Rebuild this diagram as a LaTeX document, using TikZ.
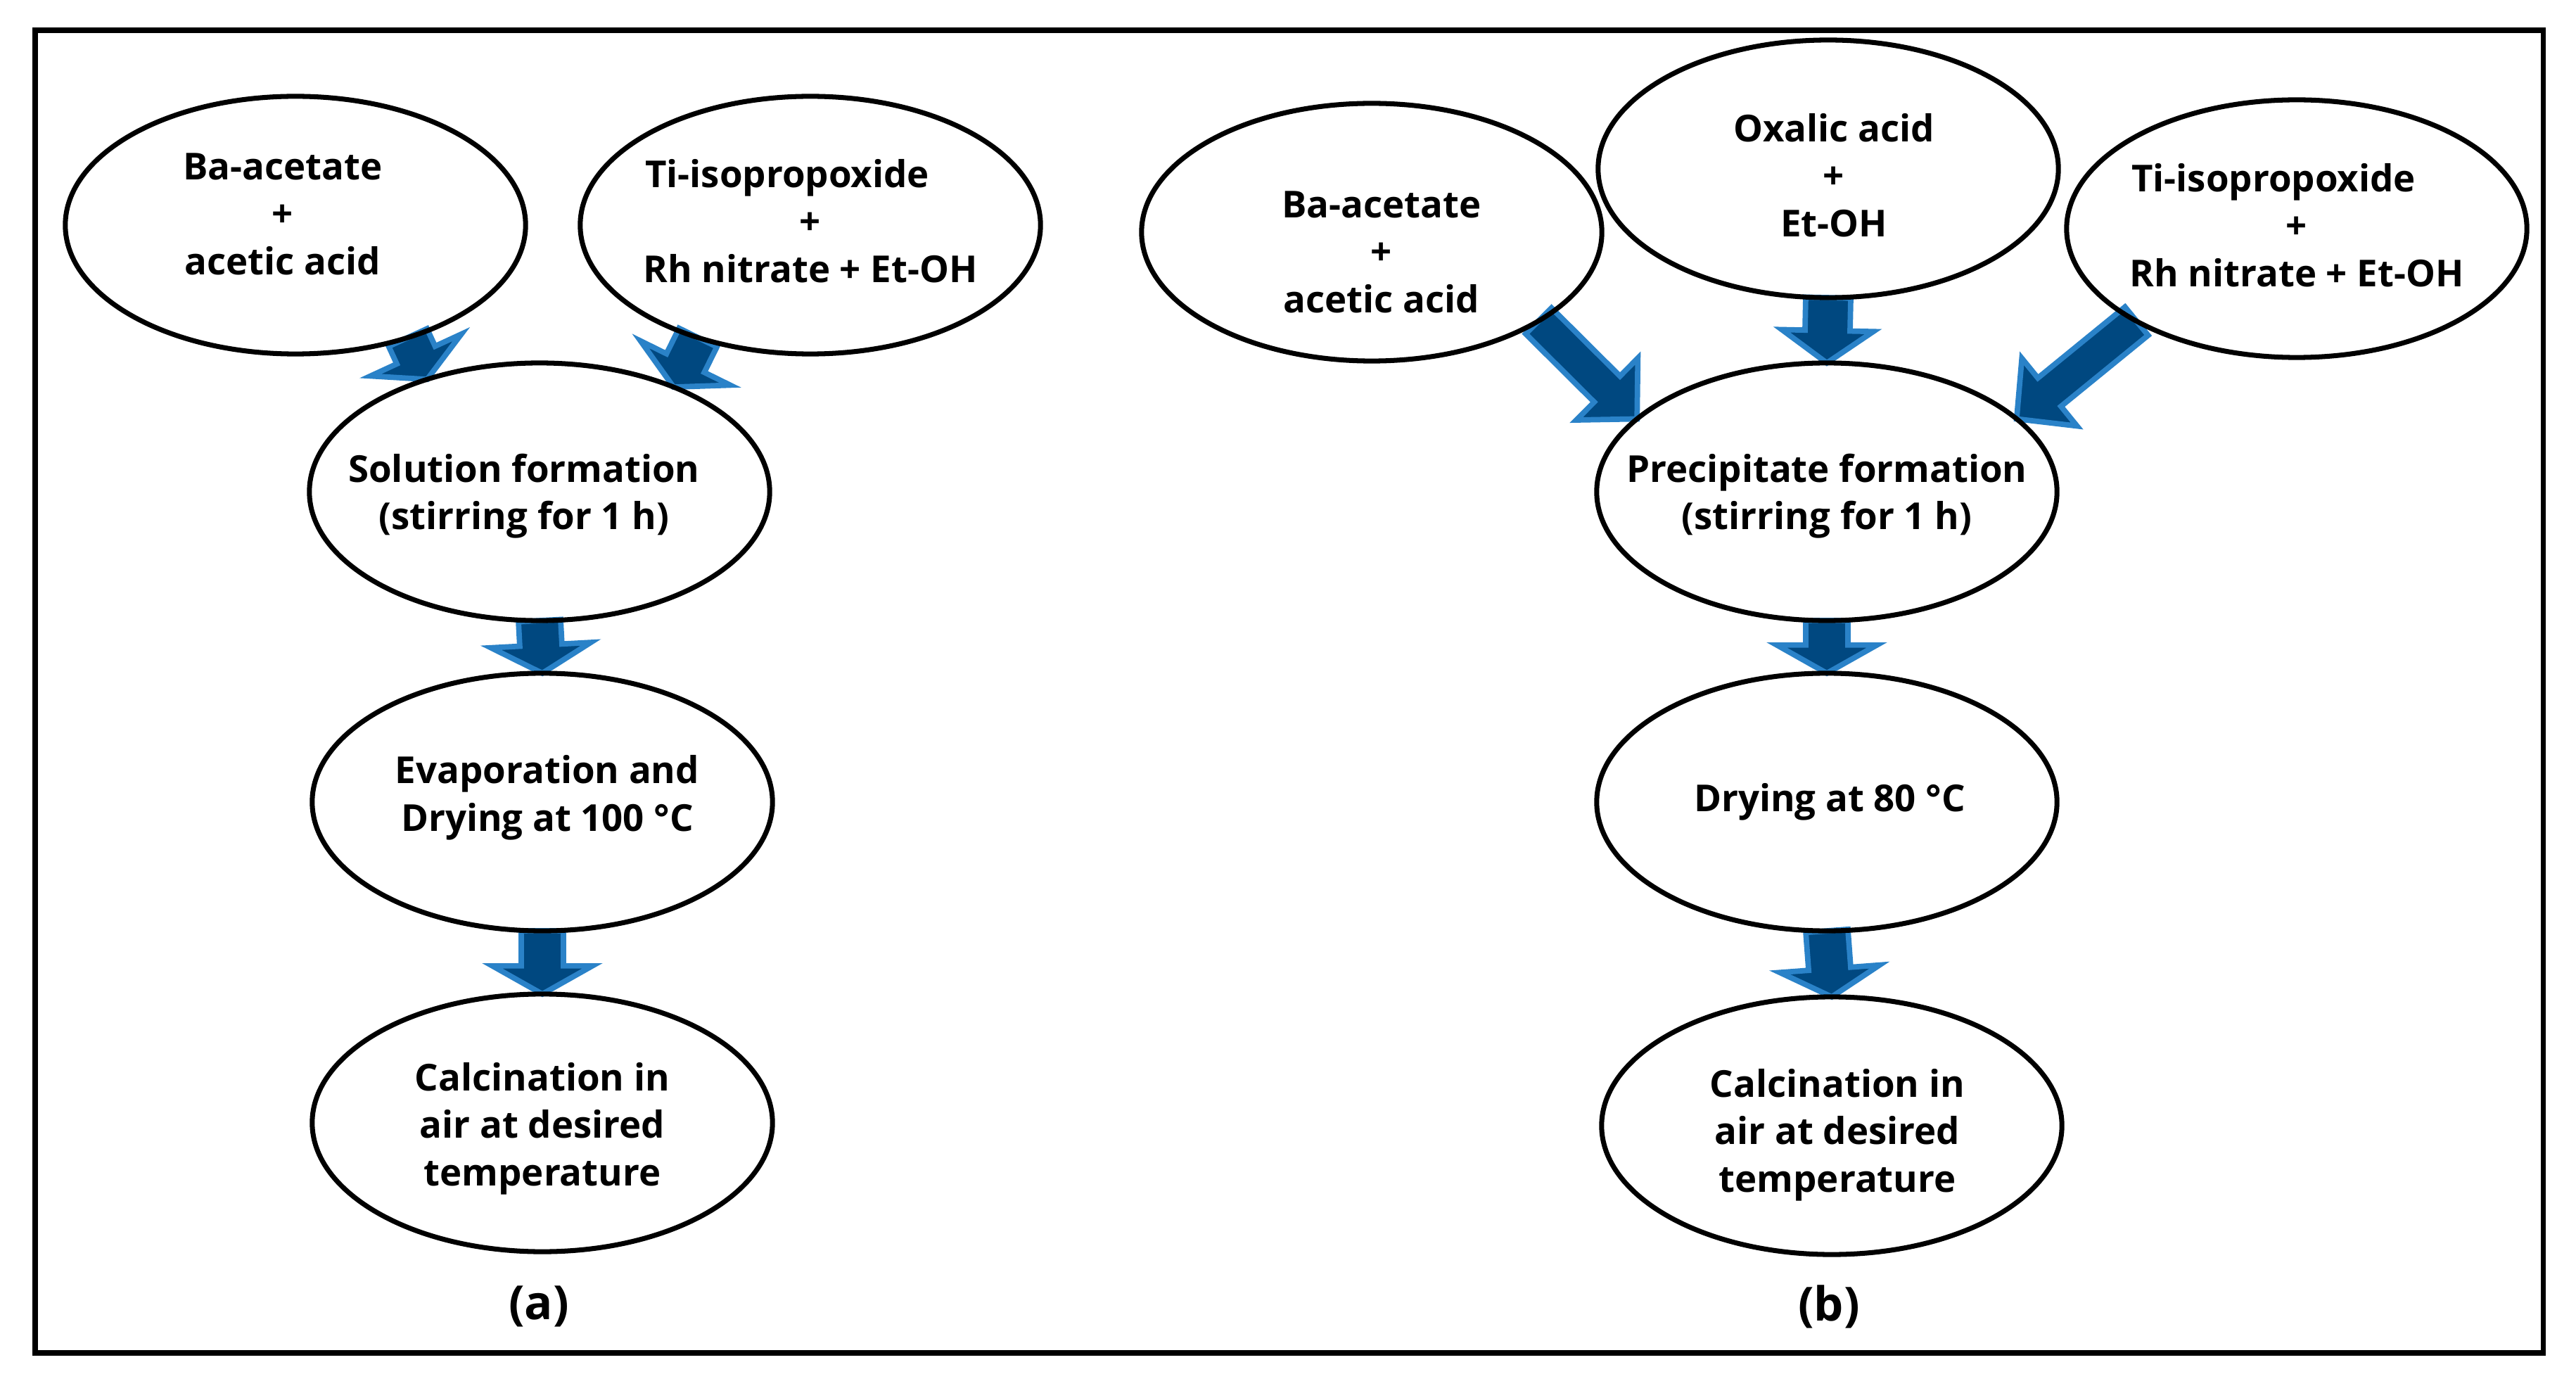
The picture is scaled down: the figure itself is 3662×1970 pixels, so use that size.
\documentclass[tikz,border=0pt]{standalone}
\usepackage{fontspec}
\setmainfont{Open Sans}
\usetikzlibrary{shapes.geometric,calc,backgrounds}

\definecolor{arrfill}{RGB}{0,72,128}
\definecolor{arredge}{RGB}{42,130,200}

% block arrow: tail, tip, shaft half width, head half width, head length
\newcommand{\flowarrow}[5]{%
  \filldraw[flowarr] let \p1=(#1), \p2=(#2),
      \n1={atan2(\y2-\y1,\x2-\x1)}, \n2={veclen(\x2-\x1,\y2-\y1)-#5} in
    ($(\p1)+(\n1+90:#3)$) -- ($(\p1)+(\n1:\n2)+(\n1+90:#3)$)
    -- ($(\p1)+(\n1:\n2)+(\n1+90:#4)$) -- (\p2)
    -- ($(\p1)+(\n1:\n2)+(\n1-90:#4)$) -- ($(\p1)+(\n1:\n2)+(\n1-90:#3)$)
    -- ($(\p1)+(\n1-90:#3)$) -- cycle;}

\begin{document}
\begin{tikzpicture}[x=0.01cm,y=-0.01cm,
    proc/.style={ellipse, draw, line width=2pt, minimum width=6.54cm, minimum height=3.66cm, inner sep=0pt, outer sep=0pt},
    txt/.style={align=center, font=\fontsize{15}{19.2}\selectfont\bfseries, inner sep=0pt},
    tag/.style={font=\fontsize{19}{22}\selectfont\bfseries, inner sep=0pt},
    flowarr/.style={fill=arrfill, draw=arredge, line width=2.2pt, line join=miter}]
\useasboundingbox (0,0) rectangle (3662,1970);
\draw[line width=2pt] (50,43) rectangle (3615,1923);

% (a)
\node[proc] (baA) at (420,320) {};
\node[proc] (tiA) at (1152,320) {};
\node[proc] (solA) at (767,699) {};
\node[proc] (evapA) at (771,1140) {};
\node[proc] (calcA) at (771,1596) {};

\node[txt] (baAt) at ([shift={(-18,-16)}]baA.center) {Ba-acetate\\+\\acetic acid};
\node[txt] (tiAt) at ([shift={(0,-6)}]tiA.center) {Ti-isopropoxide\hspace*{0.66cm}\\+\\Rh nitrate + Et-OH};
\node[txt] (solAt) at ([shift={(-22,6)}]solA.center) {Solution formation\\(stirring for 1 h)};
\node[txt] (evapAt) at ([shift={(7,-6)}]evapA.center) {Evaporation and\\Drying at 100 °C};
\node[txt] (calcAt) at ([shift={(0,8)}]calcA.center) {Calcination in\\air at desired\\temperature};
\node[tag] (labA) at (766,1857) {(a)};

% (b)
\node[proc] (baB) at (1950,330) {};
\node[proc] (oxB) at (2599,240) {};
\node[proc] (tiB) at (3265,325) {};
\node[proc] (preB) at (2597,699) {};
\node[proc] (dryB) at (2597,1140) {};
\node[proc] (calcB) at (2604,1600) {};

\node[txt] (baBt) at ([shift={(14,28)}]baB.center) {Ba-acetate\\+\\acetic acid};
\node[txt] (oxBt) at ([shift={(8,9)}]oxB.center) {Oxalic acid\\+\\Et-OH};
\node[txt] (tiBt) at ([shift={(0,-5)}]tiB.center) {Ti-isopropoxide\hspace*{0.66cm}\\+\\Rh nitrate + Et-OH};
\node[txt] (preBt) at ([shift={(0,6)}]preB.center) {Precipitate formation\\(stirring for 1 h)};
\node[txt] (dryBt) at ([shift={(4,0)}]dryB.center) {Drying at 80 °C};
\node[txt] (calcBt) at ([shift={(8,13)}]calcB.center) {Calcination in\\air at desired\\temperature};
\node[tag] (labB) at (2600,1857) {(b)};

\begin{scope}[on background layer]
\flowarrow{baA.-45}{solA.135}{0.30cm}{0.71cm}{0.38cm}
\flowarrow{tiA.-135}{solA.38}{0.30cm}{0.71cm}{0.38cm}
\flowarrow{solA.south}{evapA.north}{0.30cm}{0.71cm}{0.40cm}
\flowarrow{evapA.south}{calcA.north}{0.30cm}{0.71cm}{0.40cm}
\flowarrow{baB.-28}{preB.159}{0.26cm}{0.62cm}{0.60cm}
\flowarrow{oxB.south}{preB.north}{0.32cm}{0.65cm}{0.46cm}
\flowarrow{tiB.-150}{preB.21}{0.26cm}{0.62cm}{0.60cm}
\flowarrow{preB.south}{dryB.north}{0.30cm}{0.71cm}{0.40cm}
\flowarrow{dryB.south}{calcB.north}{0.30cm}{0.71cm}{0.40cm}
\end{scope}
\end{tikzpicture}
\end{document}
